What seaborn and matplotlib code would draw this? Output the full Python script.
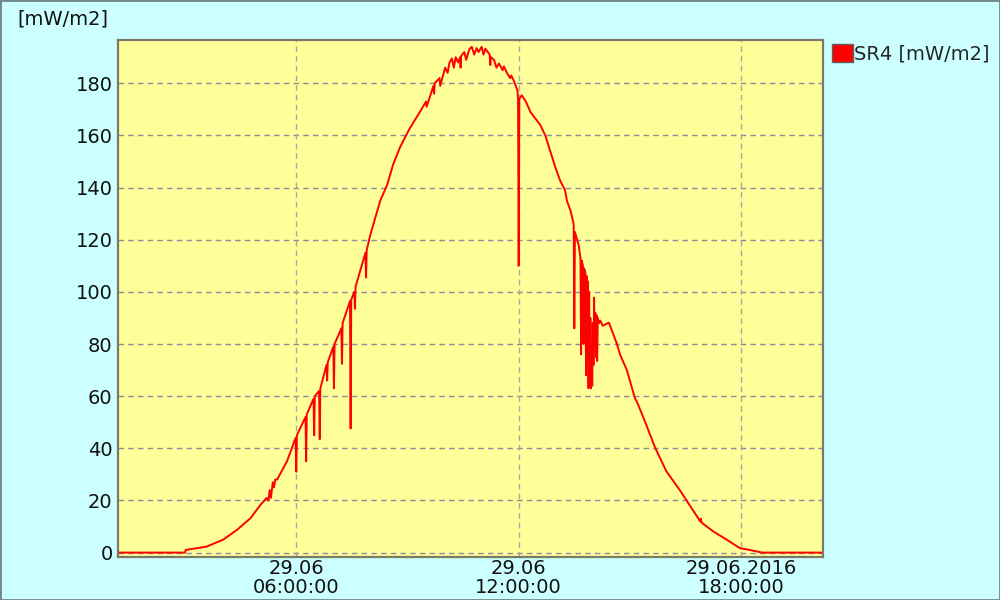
import pandas as pd
import numpy as np
import matplotlib
matplotlib.use("Agg")
import matplotlib.pyplot as plt
from matplotlib.patches import Rectangle, Patch
import seaborn as sns

# ---- data ----
day = "2016-06-29"
times = [
    "01:12", "03:00", "03:01", "03:35", "04:02", "04:24", "04:46", "05:02", "05:12",
    "05:15", "05:17", "05:19", "05:22", "05:24", "05:26", "05:29", "05:45",
    "05:59", "06:00", "06:01", "06:07", "06:15", "06:16", "06:17", "06:28", "06:29",
    "06:30", "06:37", "06:38", "06:39", "06:49", "06:50", "06:51", "07:00", "07:01",
    "07:02", "07:13", "07:14", "07:15", "07:27", "07:28", "07:29", "07:34", "07:35",
    "07:36", "07:47", "07:52", "07:53", "07:54", "08:00", "08:16", "08:27", "08:37",
    "08:48", "09:02", "09:20", "09:30", "09:31", "09:42", "09:43", "09:44",
    "09:52", "09:53", "10:01", "10:05", "10:08", "10:12", "10:15", "10:18", "10:22",
    "10:25", "10:26", "10:27", "10:32", "10:35", "10:40", "10:44", "10:48", "10:52",
    "10:55", "11:00", "11:03", "11:06", "11:10", "11:13", "11:14", "11:15", "11:20",
    "11:24", "11:28", "11:34", "11:36", "11:41", "11:46", "11:48", "11:52",
    "11:58", "11:59", "12:00", "12:01", "12:05", "12:12", "12:19",
    "12:35", "12:43", "12:51", "12:59", "13:07", "13:15", "13:18", "13:24", "13:29",
    "13:30", "13:31", "13:37", "13:40", "13:41", "13:42", "13:44", "13:45", "13:46",
    "13:48", "13:49", "13:50", "13:51", "13:52", "13:53", "13:54", "13:55", "13:56",
    "13:57", "13:58", "13:59", "14:00", "14:01", "14:02", "14:03", "14:04", "14:05",
    "14:06", "14:07", "14:08", "14:10", "14:12", "14:16", "14:26", "14:39", "14:44",
    "14:55", "15:08", "15:11", "15:22", "15:41", "15:59", "16:22", "16:40", "16:54",
    "16:55", "16:56", "17:15", "17:37", "17:58", "18:14", "18:34", "20:12",
]
values = [
    0, 0, 1, 2.3, 5, 8.7, 13.2, 18.3, 21,
    20, 24, 21, 27, 25, 28, 28, 35,
    44, 31, 45, 48, 52, 35, 53, 59, 45,
    60, 62, 43.5, 63, 72, 66, 73, 79, 63,
    80, 86, 72.4, 88, 96.5, 47.6, 97, 100, 93.5,
    102, 111, 115, 105.5, 116, 122, 135, 141, 149,
    155.5, 162, 169, 173, 171, 179, 176, 180,
    182, 179, 186, 184, 188, 189.5, 186, 190, 188,
    190, 186, 190.5, 192, 189, 193, 194, 191, 193.5,
    192, 194, 191, 193.3, 192, 191, 187, 190, 189,
    186, 187.6, 185, 186.5, 184, 182, 183, 181,
    177.3, 174, 110, 174, 175.4, 172.8, 169,
    164, 160, 154, 148, 142.7, 139, 135, 131, 126,
    86, 123, 118, 113, 76, 112, 110, 80, 109,
    107, 68, 106, 75, 104, 63, 100, 66, 90,
    63, 70, 64, 88, 72, 97.8, 80, 92, 75,
    91, 73.5, 90, 88, 89, 87, 88.2, 80, 76,
    70, 59.3, 58, 51.7, 40.1, 31.2, 23.5, 17, 11.9,
    13, 11.5, 8.1, 4.9, 1.7, 1, 0, 0,
]
series_name = "SR4 [mW/m2]"
unit_label = "[mW/m2]"
y_ticks = [0, 20, 40, 60, 80, 100, 120, 140, 160, 180]
x_tick_times = ["06:00", "12:00", "18:00"]
x_tick_labels = ["29.06\n06:00:00", "29.06\n12:00:00", "29.06.2016\n18:00:00"]

df = pd.DataFrame({
    "time": pd.to_datetime([f"{day} {t}" for t in times]),
    "value": values,
})

# ---- style ----
sns.set_theme(style="white")
plt.rcParams["font.family"] = ["DejaVu Sans"]

bg = "#ccffff"
plot_bg = "#ffff99"
spine_c = "#7a7a68"
fs = 14

fig = plt.figure(figsize=(10, 6), dpi=100, facecolor=bg)
ax = fig.add_axes([0.1183, 0.0712, 0.8227 - 0.1183, 0.9333 - 0.0712])
ax.set_facecolor(plot_bg)

sns.lineplot(data=df, x="time", y="value", ax=ax, color="#ff0000",
             linewidth=1.4, estimator=None, legend=False)

ax.set_xlim(pd.Timestamp(f"{day} 01:12"), pd.Timestamp(f"{day} 20:12"))
ax.set_ylim(-1.8, 196.6)

ax.set_yticks(y_ticks)
ax.set_yticklabels([str(v) for v in y_ticks])
xt = pd.to_datetime([f"{day} {t}" for t in x_tick_times])
ax.set_xticks(xt)
ax.set_xticklabels(x_tick_labels, linespacing=0.95)

ax.tick_params(axis="both", length=0, labelsize=fs, colors="#111111")
ax.tick_params(axis="y", pad=4)
ax.tick_params(axis="x", pad=1.5)

# grid
for yv in y_ticks:
    ax.axhline(yv, color="#8c8ca0", lw=1.0, ls=(0, (4, 3)), zorder=0.5)
for xv in xt:
    ax.axvline(xv, color="#a8a8a0", lw=1.0, ls=(0, (4, 3)), zorder=0.5)

ax.set_xlabel("")
ax.set_ylabel("")
for s in ax.spines.values():
    s.set_visible(True)
    s.set_color(spine_c)
    s.set_linewidth(1.6)

# unit label top-left
fig.text(0.017, 1 - 19 / 600, unit_label, fontsize=fs, va="center", ha="left",
         color="#111111")

# legend
handle = Patch(facecolor="#ff0000", edgecolor="#606060", linewidth=1.0)
fig.legend([handle], [series_name], loc="upper left",
           bbox_to_anchor=(0.832, 0.927), frameon=False, fontsize=fs,
           handlelength=1.08, handleheight=1.08, handletextpad=0.05,
           borderpad=0, borderaxespad=0)

# outer border
fig.add_artist(Rectangle((0, 0), 1, 1, transform=fig.transFigure, fill=False,
                         edgecolor="#708888", linewidth=2.0))

fig.savefig("out.png", dpi=100, facecolor=bg)
